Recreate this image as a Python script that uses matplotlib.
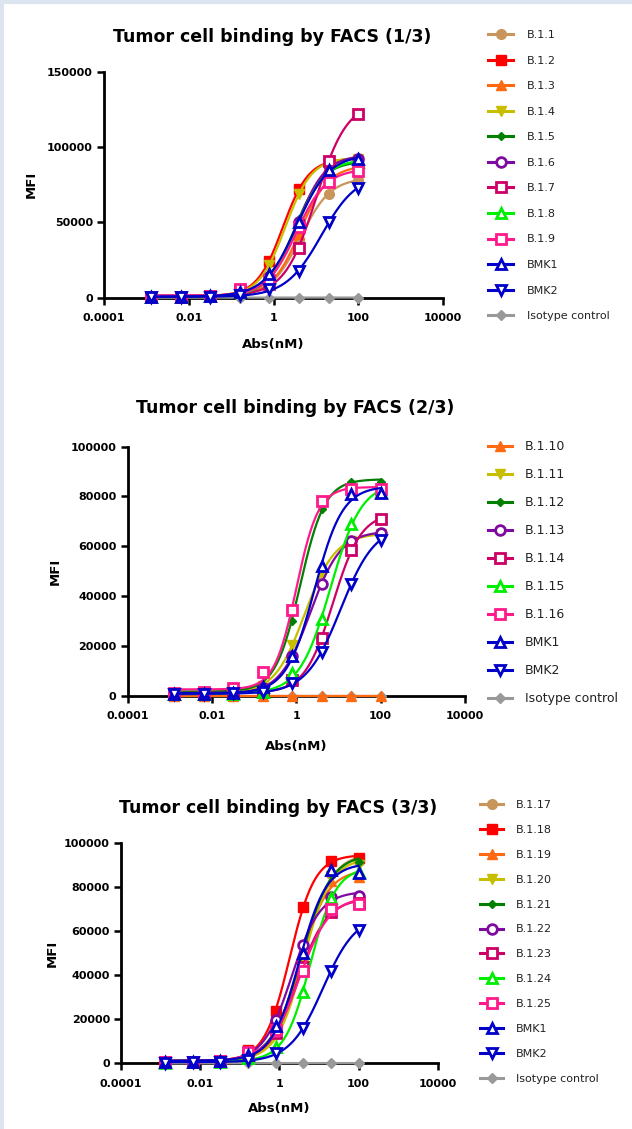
import matplotlib

matplotlib.use("Agg")
import matplotlib.pyplot as plt
import numpy as np
from matplotlib.lines import Line2D

W, H = 632, 1129

# antibody concentrations (nM), 5-fold dilutions
CONC = [0.00128, 0.0064, 0.032, 0.16, 0.8, 4, 20, 100]

P1_LABELS = ["B.1.1", "B.1.2", "B.1.3", "B.1.4", "B.1.5", "B.1.6", "B.1.7",
             "B.1.8", "B.1.9", "BMK1", "BMK2", "Isotype control"]
P1_MFI = [
    [300, 400, 800, 3000, 9000, 38000, 69000, 78000],
    [500, 600, 1200, 5500, 24500, 72000, 91000, 91000],
    [400, 500, 1000, 3500, 10000, 42000, 78000, 86000],
    [500, 600, 1200, 5000, 22000, 69000, 90000, 92000],
    [400, 500, 1000, 4000, 14000, 52000, 84000, 89000],
    [400, 500, 1000, 4000, 14000, 50000, 88000, 92000],
    [400, 500, 1000, 4500, 9000, 33000, 91000, 122000],
    [400, 500, 1000, 4000, 13000, 50000, 84000, 90000],
    [400, 500, 1000, 6000, 12000, 47000, 77000, 84000],
    [500, 600, 1000, 4000, 16000, 50000, 85000, 92000],
    [300, 400, 600, 1500, 5500, 18000, 50000, 73000],
    [0, 0, 0, 0, 100, 100, 100, 100],
]

P2_LABELS = ["B.1.10", "B.1.11", "B.1.12", "B.1.13", "B.1.14", "B.1.15",
             "B.1.16", "BMK1", "BMK2", "Isotype control"]
P2_MFI = [
    [0, 0, 0, 0, 0, 0, 0, 0],
    [800, 900, 1200, 4000, 20500, 49000, 62000, 65000],
    [800, 900, 1500, 8600, 30000, 75000, 86000, 86000],
    [700, 800, 1000, 3000, 16000, 45000, 62000, 65500],
    [700, 800, 1000, 1500, 6300, 23000, 58500, 70800],
    [500, 600, 800, 1500, 9200, 30700, 69000, 82000],
    [1200, 1300, 3000, 9400, 34400, 78000, 83000, 83000],
    [700, 800, 1000, 3500, 16000, 52000, 81000, 81500],
    [600, 700, 900, 1500, 5000, 17700, 45000, 62500],
    [0, 0, 0, 0, 0, 0, 0, 0],
]

P3_LABELS = ["B.1.17", "B.1.18", "B.1.19", "B.1.20", "B.1.21", "B.1.22",
             "B.1.23", "B.1.24", "B.1.25", "BMK1", "BMK2", "Isotype control"]
P3_MFI = [
    [300, 400, 800, 3500, 14000, 47000, 86000, 92000],
    [500, 600, 1200, 6000, 23800, 71000, 92000, 93500],
    [400, 500, 1000, 4000, 15000, 48000, 83000, 84500],
    [400, 500, 1000, 4000, 13000, 45000, 85000, 90000],
    [400, 500, 1000, 4500, 16000, 50000, 86000, 91600],
    [500, 600, 1200, 5000, 19700, 54000, 75400, 76000],
    [400, 500, 1000, 4000, 14000, 44000, 69000, 73000],
    [300, 400, 700, 2500, 7600, 32600, 75000, 87000],
    [500, 600, 1200, 5000, 15000, 42000, 70000, 72500],
    [500, 600, 1000, 4000, 17000, 50000, 88000, 86300],
    [300, 400, 600, 1500, 4500, 15900, 42100, 60600],
    [0, 0, 0, 0, 100, 100, 100, 100],
]

# (color, marker, filled, markersize)
STYLES = [
    ("#C8965A", "o", True, 7),
    ("#FF0000", "s", True, 7),
    ("#FF6A10", "^", True, 7),
    ("#C8BE00", "v", True, 7),
    ("#007F00", "D", True, 4.5),
    ("#7F0A9F", "o", False, 7),
    ("#CC0066", "s", False, 7),
    ("#00EE00", "^", False, 7.5),
    ("#FF1A8C", "s", False, 7),
    ("#0000C8", "^", False, 7.5),
    ("#0000C8", "v", False, 7.5),
    ("#999999", "D", True, 5),
]


def fitCurve(x, y):
    """4-parameter logistic fit on a grid (bottom/top solved linearly)."""
    lx = np.log10(np.asarray(x, float))
    y = np.asarray(y, float)
    lc = np.arange(-2.0, 4.0, 0.01)[:, None, None]
    hs = np.arange(0.4, 3.0, 0.02)[None, :, None]
    s = 1.0 / (1.0 + 10 ** ((lc - lx) * hs))
    sm = s.mean(-1, keepdims=True)
    ym = y.mean()
    b = ((s - sm) * (y - ym)).sum(-1, keepdims=True) / ((s - sm) ** 2).sum(-1, keepdims=True)
    a = ym - b * sm
    sse = ((y - a - b * s) ** 2).sum(-1)
    i, j = np.unravel_index(np.argmin(sse), sse.shape)
    xs = np.logspace(lx[0], lx[-1], 250)
    ss = 1.0 / (1.0 + 10 ** ((lc[i, 0, 0] - np.log10(xs)) * hs[0, j, 0]))
    return xs, a[i, j, 0] + b[i, j, 0] * ss


def markerKw(style):
    color, marker, filled, ms = style
    return dict(
        color=color,
        marker=marker,
        markersize=ms,
        markerfacecolor=color if filled else "white",
        markeredgecolor=color,
        markeredgewidth=1.0 if filled else 2.0,
    )


def drawPanel(fig, rect, title, titlePos, labels, values, styles, ymax, ystep,
              legAnchor, legFont, legSpacing, legHandle, legPad, ylabOff, xlabOff):
    ax = fig.add_axes(rect)
    axW = rect[2] * W
    axH = rect[3] * H

    order = [len(labels) - 1] + list(range(len(labels) - 1))
    for z, k in enumerate(order):
        st = styles[k]
        xs, ys = fitCurve(CONC, values[k])
        ax.plot(xs, ys, color=st[0], linewidth=1.6, zorder=3 + z, clip_on=False)
        kw = markerKw(st)
        ax.plot(CONC, values[k], linestyle="none", zorder=3.5 + z, clip_on=False, **kw)

    ax.set_xscale("log")
    ax.set_xlim(1e-4, 1e4)
    ax.set_ylim(0, ymax)
    ax.set_xticks([1e-4, 1e-2, 1, 100, 1e4])
    ax.set_xticklabels(["0.0001", "0.01", "1", "100", "10000"])
    ax.minorticks_off()
    ax.set_yticks(np.arange(0, ymax + 1, ystep))
    ax.set_yticklabels([str(int(v)) for v in np.arange(0, ymax + 1, ystep)])
    for side in ["top", "right"]:
        ax.spines[side].set_visible(False)
    for side in ["left", "bottom"]:
        ax.spines[side].set_linewidth(2.0)
        ax.spines[side].set_zorder(2)
    ax.tick_params(axis="both", direction="out", length=5, width=1.8,
                   labelsize=8, colors="black")
    ax.tick_params(axis="x", pad=6)
    ax.tick_params(axis="y", pad=3)
    for t in ax.get_xticklabels() + ax.get_yticklabels():
        t.set_fontweight("bold")

    ax.set_xlabel("Abs(nM)", fontsize=9.5, fontweight="bold")
    ax.set_ylabel("MFI", fontsize=9.5, fontweight="bold")
    ax.xaxis.set_label_coords(0.5, -xlabOff / axH)
    ax.yaxis.set_label_coords(-ylabOff / axW, 0.5)

    fig.text(titlePos[0] / W, 1 - titlePos[1] / H, title, ha="center", va="center",
             fontsize=12.5, fontweight="bold")

    handles = [Line2D([], [], linewidth=2.2, **markerKw(st)) for st in styles]
    leg = ax.legend(
        handles,
        labels,
        loc="upper left",
        bbox_to_anchor=(legAnchor[0] / W, 1 - legAnchor[1] / H),
        bbox_transform=fig.transFigure,
        frameon=False,
        fontsize=legFont,
        labelspacing=legSpacing,
        handlelength=legHandle,
        handletextpad=legPad,
        borderpad=0,
        borderaxespad=0,
        numpoints=1,
    )
    for t in leg.get_texts():
        t.set_fontweight("normal")
        t.set_color("#222222")
    return ax


fig = plt.figure(figsize=(W / 100, H / 100), dpi=100)
fig.patch.set_facecolor("white")

drawPanel(fig, [104 / W, 1 - 297.7 / H, 339 / W, 226 / H],
          "Tumor cell binding by FACS (1/3)", (272, 37),
          P1_LABELS, P1_MFI, STYLES, 150000, 50000,
          (488, 30), 8, 1.40, 2.25, 1.26, 66, 40)

drawPanel(fig, [127.7 / W, 1 - 695.7 / H, 337.3 / W, 249 / H],
          "Tumor cell binding by FACS (2/3)", (295, 408),
          P2_LABELS, P2_MFI, STYLES[2:], 100000, 20000,
          (488, 440), 9, 1.20, 1.92, 1.04, 65.7, 44)

drawPanel(fig, [121 / W, 1 - 1063.3 / H, 316.7 / W, 220 / H],
          "Tumor cell binding by FACS (3/3)", (278, 808),
          P3_LABELS, P3_MFI, STYLES, 100000, 20000,
          (480, 800), 8, 1.34, 2.07, 1.14, 62, 39)

# light frame edge of the original screenshot
fig.add_artist(Line2D([0, 1], [1 - 2 / H, 1 - 2 / H], transform=fig.transFigure,
                      color="#DCE4F0", linewidth=3))
fig.add_artist(Line2D([1.5 / W, 1.5 / W], [0, 1], transform=fig.transFigure,
                      color="#DCE4F0", linewidth=3))

fig.savefig("out.png", dpi=100)
